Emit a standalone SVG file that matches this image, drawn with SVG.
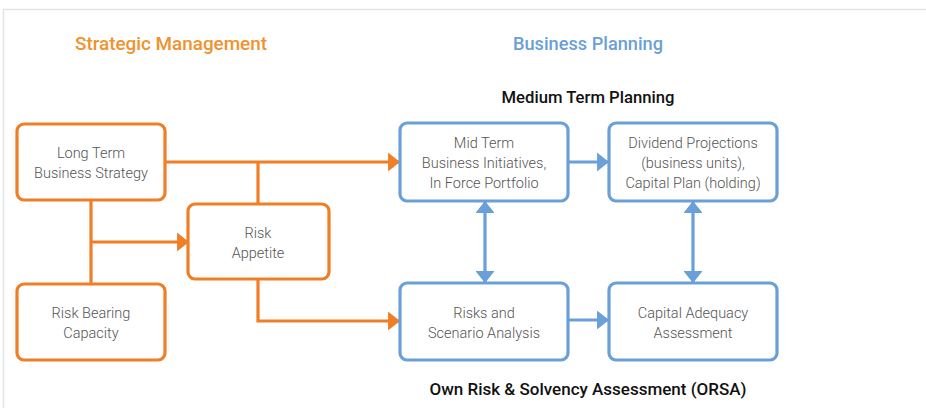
<svg xmlns="http://www.w3.org/2000/svg" width="926" height="408" viewBox="0 0 926 408">
<defs>
<style>
.o{fill:#fff;stroke:#F07E26;stroke-width:3.2}
.b{fill:#fff;stroke:#6A9FD8;stroke-width:3.2}
.ol{fill:none;stroke:#F07E26;stroke-width:3.2}
.bl{fill:none;stroke:#6A9FD8;stroke-width:3.2}
.t{font-family:Roboto,"Liberation Sans",sans-serif;font-size:14.5px;fill:#555;text-anchor:middle;font-weight:300}
.h{font-family:Roboto,"Liberation Sans",sans-serif;font-weight:500;text-anchor:middle}
</style>
<marker id="ao" viewBox="0 0 12 19" refX="11" refY="9.5" markerWidth="3.75" markerHeight="5.9" markerUnits="strokeWidth" orient="auto"><path d="M0,0L12,9.5L0,19Z" fill="#F07E26"/></marker>
<marker id="ab" viewBox="0 0 12 19" refX="11" refY="9.5" markerWidth="3.75" markerHeight="5.9" markerUnits="strokeWidth" orient="auto-start-reverse"><path d="M0,0L12,9.5L0,19Z" fill="#6A9FD8"/></marker>
</defs>
<rect x="0" y="0" width="926" height="408" fill="#fff"/>
<path d="M3.5,408V9.5H926" fill="none" stroke="#e4e4e4" stroke-width="1.5"/>
<text class="h" x="171" y="50" font-size="19" fill="#F0922E" textLength="192" lengthAdjust="spacingAndGlyphs">Strategic Management</text>
<text class="h" x="588" y="50" font-size="19" fill="#6A9FD8" textLength="150" lengthAdjust="spacingAndGlyphs">Business Planning</text>
<text class="h" x="588" y="103" font-size="17" fill="#111" textLength="173" lengthAdjust="spacingAndGlyphs">Medium Term Planning</text>
<text class="h" x="588" y="395" font-size="17" fill="#111" textLength="317" lengthAdjust="spacingAndGlyphs">Own Risk &amp; Solvency Assessment (ORSA)</text>
<g id="connectors">
<path class="ol" d="M91,200V283"/>
<path class="ol" d="M91,242H188" marker-end="url(#ao)"/>
<path class="ol" d="M165,162H399" marker-end="url(#ao)"/>
<path class="ol" d="M258,162V204"/>
<path class="ol" d="M258,279V321H399" marker-end="url(#ao)"/>
<path class="bl" d="M568,162H608" marker-end="url(#ab)"/>
<path class="bl" d="M568,320H608" marker-end="url(#ab)"/>
<path class="bl" d="M485,202V282" marker-start="url(#ab)" marker-end="url(#ab)"/>
<path class="bl" d="M693,202V282" marker-start="url(#ab)" marker-end="url(#ab)"/>
</g>
<g id="long-term">
<rect class="o" x="17" y="124" width="148" height="76" rx="7"/>
<text class="t" x="91" y="158">Long Term</text>
<text class="t" x="91" y="178">Business Strategy</text>
</g>
<g id="risk-bearing">
<rect class="o" x="17" y="284" width="148" height="76" rx="7"/>
<text class="t" x="91" y="318">Risk Bearing</text>
<text class="t" x="91" y="338">Capacity</text>
</g>
<g id="risk-appetite">
<rect class="o" x="188" y="204" width="141" height="75" rx="7"/>
<text class="t" x="258" y="238">Risk</text>
<text class="t" x="258" y="258">Appetite</text>
</g>
<g id="mid-term">
<rect class="b" x="400" y="123" width="168" height="78" rx="7"/>
<text class="t" x="484" y="148">Mid Term</text>
<text class="t" x="484" y="168">Business Initiatives,</text>
<text class="t" x="484" y="188">In Force Portfolio</text>
</g>
<g id="dividend">
<rect class="b" x="609" y="123" width="168" height="78" rx="7"/>
<text class="t" x="693" y="148">Dividend Projections</text>
<text class="t" x="693" y="168">(business units),</text>
<text class="t" x="693" y="188">Capital Plan (holding)</text>
</g>
<g id="risks-scenario">
<rect class="b" x="400" y="283" width="168" height="77" rx="7"/>
<text class="t" x="484" y="318">Risks and</text>
<text class="t" x="484" y="338">Scenario Analysis</text>
</g>
<g id="capital-adequacy">
<rect class="b" x="609" y="283" width="168" height="77" rx="7"/>
<text class="t" x="693" y="318">Capital Adequacy</text>
<text class="t" x="693" y="338">Assessment</text>
</g>
</svg>
